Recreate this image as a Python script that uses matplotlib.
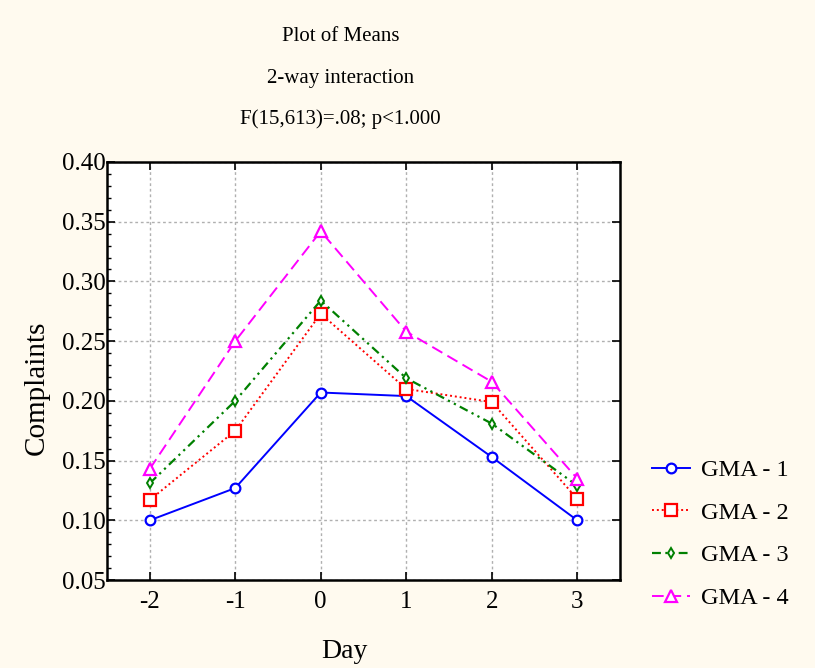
import matplotlib
matplotlib.use("Agg")
import matplotlib.pyplot as plt
from matplotlib.ticker import MultipleLocator, FormatStrFormatter

plt.rcParams['font.family'] = ['Liberation Serif', 'DejaVu Serif']

days = [-2, -1, 0, 1, 2, 3]
day_labels = ["-2", "-1", "0", "1", "2", "3"]
gma1 = [0.100, 0.127, 0.207, 0.204, 0.153, 0.100]
gma2 = [0.117, 0.175, 0.273, 0.210, 0.199, 0.118]
gma3 = [0.131, 0.200, 0.284, 0.219, 0.181, 0.129]
gma4 = [0.143, 0.250, 0.342, 0.258, 0.216, 0.135]
series_names = ["GMA - 1", "GMA - 2", "GMA - 3", "GMA - 4"]

fig = plt.figure(figsize=(8.15, 6.68), dpi=100, facecolor='#FFFAEF')
ax = fig.add_axes([0.1313, 0.1317, 0.6294, 0.6258])
ax.set_facecolor('white')

styles = [
    dict(color='#0000FF', linestyle='-', marker='o', ms=7, mfc='white', mew=1.6, lw=1.4),
    dict(color='#FF0000', linestyle=(0, (1, 1.5)), marker='s', ms=8, mfc='white', mew=1.6, lw=1.4),
    dict(color='#008000', linestyle=(0, (4, 2, 1, 2, 1, 2)), marker='d', ms=5, mfc='white', mew=1.4, lw=1.6),
    dict(color='#FF00FF', linestyle=(0, (6, 3)), marker='^', ms=8, mfc='white', mew=1.6, lw=1.4),
]
for vals, name, st in zip([gma1, gma2, gma3, gma4], series_names, styles):
    ax.plot(days, vals, label=name, **st)

ax.set_xlim(-2.5, 3.5)
ax.set_ylim(0.05, 0.40)
ax.set_xticks(days)
ax.set_xticklabels(day_labels)
ax.yaxis.set_major_locator(MultipleLocator(0.05))
ax.yaxis.set_minor_locator(MultipleLocator(0.01))
ax.yaxis.set_major_formatter(FormatStrFormatter('%.2f'))
ax.tick_params(axis='both', which='major', direction='in', length=6, width=1.2,
               labelsize=18, right=True, top=True)
ax.tick_params(axis='x', which='major', pad=8)
ax.tick_params(axis='y', which='major', pad=1)
ax.tick_params(axis='y', which='minor', direction='in', length=3, width=1, right=False)
ax.grid(True, which='major', color='#B0B0B0', linestyle=(0, (2, 2)), lw=1)
for sp in ax.spines.values():
    sp.set_linewidth(1.8)

ax.set_xlabel('Day', fontsize=20)
ax.set_ylabel('Complaints', fontsize=21)
ax.xaxis.set_label_coords(0.462, -0.142)
ax.yaxis.set_label_coords(-0.111, 0.46)

fig.text(0.418, 0.945, 'Plot of Means', ha='center', va='center', fontsize=15)
fig.text(0.418, 0.883, '2-way interaction', ha='center', va='center', fontsize=15)
fig.text(0.418, 0.821, 'F(15,613)=.08; p<1.000', ha='center', va='center', fontsize=15)

leg = ax.legend(loc='center left', bbox_to_anchor=(1.019, 0.11), frameon=False,
                fontsize=17.5, handlelength=1.6, labelspacing=0.85, handletextpad=0.45,
                borderpad=0.4)

fig.savefig('out.png', dpi=100, facecolor=fig.get_facecolor())
